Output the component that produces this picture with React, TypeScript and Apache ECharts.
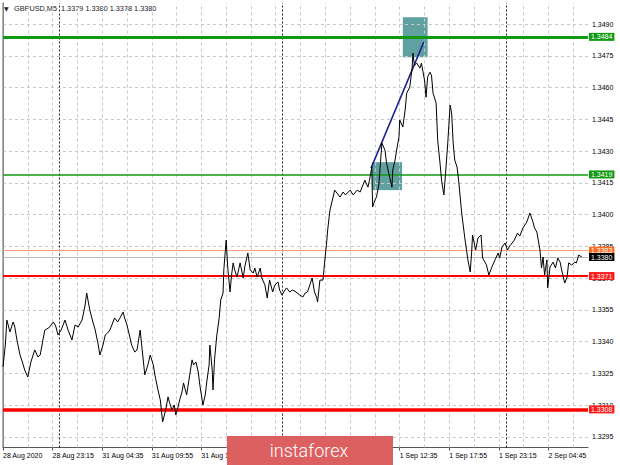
import React, { useEffect, useRef } from "react";
import * as echarts from "echarts";

// ---- x axis (bar index of M5 candles) ----
const xTickBars = [0, 64, 128, 192, 256, 320, 384, 448, 512, 576, 640, 704];
// labels at 320, 384 and 448 lie fully under the instaforex banner in the reference
const xTickLabels = [
  "28 Aug 2020", "28 Aug 23:15", "31 Aug 04:35", "31 Aug 09:55", "31 Aug 15:15", "",
  "", "", "1 Sep 12:35", "1 Sep 17:55", "1 Sep 23:15", "2 Sep 04:45",
];
const vGridBars = [32, 64, 96, 128, 160, 192, 224, 256, 288, 320, 352, 384, 416, 448, 480, 512, 544, 576, 608, 640, 672, 704, 736];
const daySeparatorBars = [73, 361, 649];

// ---- y axis ----
const yTicks = [1.3295, 1.331, 1.3325, 1.334, 1.3355, 1.337, 1.3385, 1.34, 1.3415, 1.343, 1.3445, 1.346, 1.3475, 1.349];

// ---- price (close) series: bar index and price ----
const priceBars = [
  0, 3, 5, 9, 13, 15, 18, 22, 25, 28, 32, 36, 41, 45, 48, 52, 54, 59, 65, 68,
  71, 75, 80, 84, 89, 93, 97, 102, 106, 108, 112, 116, 119, 123, 125, 129, 132, 135, 138, 142,
  144, 148, 151, 155, 157, 160, 164, 166, 170, 173, 177, 179, 183, 187, 190, 194, 196, 200, 203, 206,
  210, 213, 215, 218, 221, 223, 226, 228, 231, 233, 237, 241, 244, 246, 249, 252, 254, 258, 261, 263,
  266, 267, 270, 271, 273, 276, 279, 281, 284, 285, 288, 290, 293, 295, 297, 299, 302, 306, 310, 312,
  316, 319, 323, 325, 328, 332, 334, 338, 341, 344, 348, 351, 355, 357, 360, 364, 366, 370, 374, 378,
  383, 387, 390, 393, 396, 399, 402, 405, 406, 409, 413, 415, 418, 419, 422, 426, 428, 431, 435, 439,
  442, 448, 452, 457, 461, 463, 467, 471, 473, 476, 477, 480, 482, 485, 489, 493, 495, 499, 502, 503,
  506, 508, 511, 512, 516, 519, 521, 525, 528, 529, 531, 534, 538, 540, 544, 546, 548, 551, 553, 555,
  559, 561, 564, 566, 569, 571, 574, 577, 579, 581, 583, 586, 588, 592, 596, 600, 603, 605, 606, 610,
  613, 617, 619, 622, 624, 627, 631, 635, 639, 641, 644, 648, 651, 654, 657, 660, 664, 667, 671, 676,
  680, 684, 686, 689, 693, 695, 697, 699, 702, 703, 706, 710, 713, 716, 719, 721, 725, 728, 730, 734,
  738, 740, 743, 747,
];
const priceClose = [
  1.33281, 1.33384, 1.33502, 1.33446, 1.33493, 1.33474, 1.33408, 1.33337, 1.33304, 1.33266,
  1.33233, 1.33304, 1.33361, 1.33328, 1.33337, 1.33417, 1.33455, 1.33465, 1.33493, 1.33474,
  1.33432, 1.33455, 1.33502, 1.33455, 1.33408, 1.33479, 1.33469, 1.33502, 1.33573, 1.3363,
  1.3355, 1.33493, 1.33455, 1.33384, 1.33337, 1.33384, 1.33432, 1.33441, 1.33455, 1.33493,
  1.33512, 1.33493, 1.33512, 1.3354, 1.33512, 1.33479, 1.33417, 1.33384, 1.33351, 1.33361,
  1.33455, 1.33384, 1.33243, 1.3329, 1.33337, 1.3329, 1.33243, 1.33172, 1.33125, 1.33021,
  1.33078, 1.33139, 1.33111, 1.33078, 1.33101, 1.33054, 1.33092, 1.33125, 1.33162, 1.33205,
  1.33148, 1.33243, 1.33314, 1.3329, 1.33304, 1.33257, 1.33196, 1.33101, 1.33148, 1.3321,
  1.3329, 1.33384, 1.33266, 1.33172, 1.33314, 1.33432, 1.33512, 1.33597, 1.3363, 1.33739,
  1.3388, 1.33753, 1.33635, 1.33715, 1.33772, 1.33739, 1.33705, 1.33772, 1.33701, 1.33753,
  1.33819, 1.33739, 1.33724, 1.33748, 1.33705, 1.33748, 1.33701, 1.33668, 1.33606, 1.33691,
  1.33635, 1.33668, 1.33682, 1.33644, 1.3362, 1.33644, 1.33654, 1.33635, 1.33644, 1.33635,
  1.3362, 1.33611, 1.3363, 1.33635, 1.33668, 1.33701, 1.33635, 1.33606, 1.33587, 1.33691,
  1.33691, 1.33772, 1.3388, 1.33927, 1.34022, 1.34083, 1.34116, 1.34102, 1.34083, 1.34107,
  1.34093, 1.34116, 1.34093, 1.34116, 1.34107, 1.34126, 1.34163, 1.3413, 1.34163, 1.34225,
  1.34036, 1.34069, 1.34083, 1.3414, 1.34338, 1.34305, 1.34244, 1.34178, 1.3413, 1.34211,
  1.34258, 1.34305, 1.34366, 1.34447, 1.34414, 1.34494, 1.34574, 1.34603, 1.34692, 1.34763,
  1.34706, 1.34716, 1.34692, 1.34716, 1.34636, 1.34555, 1.3465, 1.34673, 1.34659, 1.34574,
  1.34527, 1.34352, 1.34244, 1.34163, 1.34093, 1.34187, 1.34338, 1.34518, 1.3448, 1.34338,
  1.34258, 1.34225, 1.34163, 1.34008, 1.3389, 1.33786, 1.33729, 1.33833, 1.33904, 1.33833,
  1.3389, 1.33904, 1.33795, 1.33776, 1.33762, 1.33715, 1.33753, 1.33786, 1.33819, 1.33795,
  1.33847, 1.33866, 1.33833, 1.33852, 1.33866, 1.3388, 1.33913, 1.33899, 1.33937, 1.33965,
  1.34008, 1.33965, 1.33937, 1.33918, 1.33833, 1.33748, 1.338, 1.33715, 1.33786, 1.33654,
  1.33753, 1.33776, 1.33748, 1.33795, 1.33776, 1.33739, 1.33677, 1.33705, 1.33772, 1.33762,
  1.33776, 1.33772, 1.33809, 1.338,
];

// ---- horizontal levels ----
const levelValues = [1.3484, 1.3419, 1.3383, 1.338, 1.3371, 1.3308];

// ---- annotations: boxes [bar1, price1, bar2, price2] and trend line ----
const boxUpper = [516, 1.34933, 548, 1.34744];
const boxLower = [476, 1.34248, 515, 1.34116];
const trendStart = [475, 1.3422];
const trendEnd = [543, 1.34815];

const FONT = "Liberation Sans";

const levelStyles = [
  { line: "#119a11", width: 3, bg: "#119a11", fg: "#ffffff" },
  { line: "#119a11", width: 1.5, bg: "#119a11", fg: "#ffffff" },
  { line: "#ffa07a", width: 1, bg: "#ff6a1c", fg: "#ffffff" },
  { line: "#b8b8b8", width: 1, bg: "#000000", fg: "#ffffff" },
  { line: "#ff0000", width: 2, bg: "#ff1a1a", fg: "#ffffff" },
  { line: "#ff0000", width: 3.5, bg: "#ff1a1a", fg: "#ffffff" },
];

export default function App() {
  const ref = useRef<HTMLDivElement>(null);

  useEffect(() => {
    document.body.style.margin = "0";
    if (!ref.current) return;
    const chart = echarts.init(ref.current, null, { renderer: "svg" });

    const priceData = priceBars.map((b, i) => [b, priceClose[i]]);

    const option: any = {
      animation: false,
      backgroundColor: "#ffffff",
      grid: { left: 3, right: 32, top: 3, bottom: 17.5, containLabel: false },
      xAxis: {
        type: "value",
        min: 0,
        max: 755,
        axisLine: { show: true, lineStyle: { color: "#555555", width: 1 } },
        axisTick: { show: true, customValues: xTickBars, length: 3, lineStyle: { color: "#555555" } },
        axisLabel: {
          customValues: xTickBars,
          formatter: (v: number) => {
            const i = xTickBars.indexOf(Math.round(v));
            return i >= 0 ? xTickLabels[i] : "";
          },
          align: "left",
          fontSize: 7,
          fontFamily: FONT,
          color: "#000000",
          margin: 4,
        },
        splitLine: { show: false },
      },
      yAxis: {
        type: "value",
        position: "right",
        min: 1.329,
        max: 1.35,
        axisLine: { show: true, lineStyle: { color: "#555555", width: 1 } },
        axisTick: { show: true, customValues: yTicks, length: 3, lineStyle: { color: "#555555" } },
        axisLabel: {
          customValues: yTicks,
          formatter: (v: number) => v.toFixed(4),
          fontSize: 7,
          fontFamily: FONT,
          color: "#000000",
          margin: 4,
        },
        splitLine: { show: false },
      },
      series: [
        {
          type: "line",
          data: [],
          silent: true,
          z: 1,
          markLine: {
            silent: true,
            precision: 6,
            symbol: ["none", "none"],
            label: { show: false },
            lineStyle: { color: "#c8c8c8", type: [3, 3], width: 1 },
            data: [
              ...yTicks.map((v) => ({ yAxis: v })),
              ...vGridBars.map((v) => ({ xAxis: v })),
            ],
          },
        },
        {
          type: "line",
          data: [],
          silent: true,
          z: 2,
          markLine: {
            silent: true,
            precision: 6,
            symbol: ["none", "none"],
            label: { show: false },
            lineStyle: { color: "#222222", type: [2, 2], width: 1 },
            data: daySeparatorBars.map((v) => ({ xAxis: v })),
          },
        },
        {
          type: "line",
          data: [],
          silent: true,
          z: 2,
          markLine: {
            silent: true,
            precision: 6,
            symbol: ["none", "none"],
            label: { show: false },
            lineStyle: { color: "#999999", type: "solid", width: 1.5 },
            data: [{ xAxis: 0 }],
          },
        },
        {
          type: "line",
          data: [],
          silent: true,
          z: 3,
          markLine: {
            silent: true,
            precision: 6,
            symbol: ["none", "none"],
            data: levelValues.map((v, i) => ({
              yAxis: v,
              lineStyle: { color: levelStyles[i].line, width: levelStyles[i].width, type: "solid" },
              label: {
                show: true,
                position: "end",
                distance: 1,
                formatter: () => v.toFixed(4),
                color: levelStyles[i].fg,
                backgroundColor: levelStyles[i].bg,
                padding: [1, 2, 0, 2],
                fontSize: 7,
                fontFamily: FONT,
              },
            })),
          },
        },
        {
          type: "line",
          data: priceData,
          showSymbol: false,
          symbol: "none",
          z: 5,
          lineStyle: { color: "#000000", width: 1 },
          markArea: {
            silent: true,
            itemStyle: { color: "rgba(20,115,115,0.68)" },
            data: [
              [{ coord: [boxUpper[0], boxUpper[1]] }, { coord: [boxUpper[2], boxUpper[3]] }],
              [{ coord: [boxLower[0], boxLower[1]] }, { coord: [boxLower[2], boxLower[3]] }],
            ],
          },
          markLine: {
            silent: true,
            precision: 6,
            symbol: ["none", "none"],
            label: { show: false },
            lineStyle: { color: "#1c1c8a", width: 1.5, type: "solid" },
            data: [[{ coord: trendStart }, { coord: trendEnd }]],
          },
        },
      ],
      graphic: [
        {
          type: "text",
          x: 4,
          y: 8,
          style: { text: "▼", fontSize: 6, fontFamily: "DejaVu Sans", fill: "#222222", verticalAlign: "middle" },
        },
        {
          type: "text",
          x: 14,
          y: 8,
          style: {
            text: "GBPUSD,M5  1.3379 1.3380 1.3378 1.3380",
            fontSize: 7.3,
            fontFamily: FONT,
            fill: "#1a1a2a",
            verticalAlign: "middle",
          },
        },
        {
          type: "rect",
          z: 100,
          shape: { x: 227, y: 436, width: 166, height: 29 },
          style: { fill: "#dd6060" },
        },
        {
          type: "text",
          z: 101,
          x: 309,
          y: 450,
          style: {
            text: "instaforex",
            fontSize: 18,
            fontFamily: "Roboto",
            fontWeight: 300,
            fill: "#ffffff",
            align: "center",
            verticalAlign: "middle",
          },
        },
      ],
    };

    chart.setOption(option);
    return () => chart.dispose();
  }, []);

  return <div ref={ref} style={{ width: 620, height: 465 }} />;
}
